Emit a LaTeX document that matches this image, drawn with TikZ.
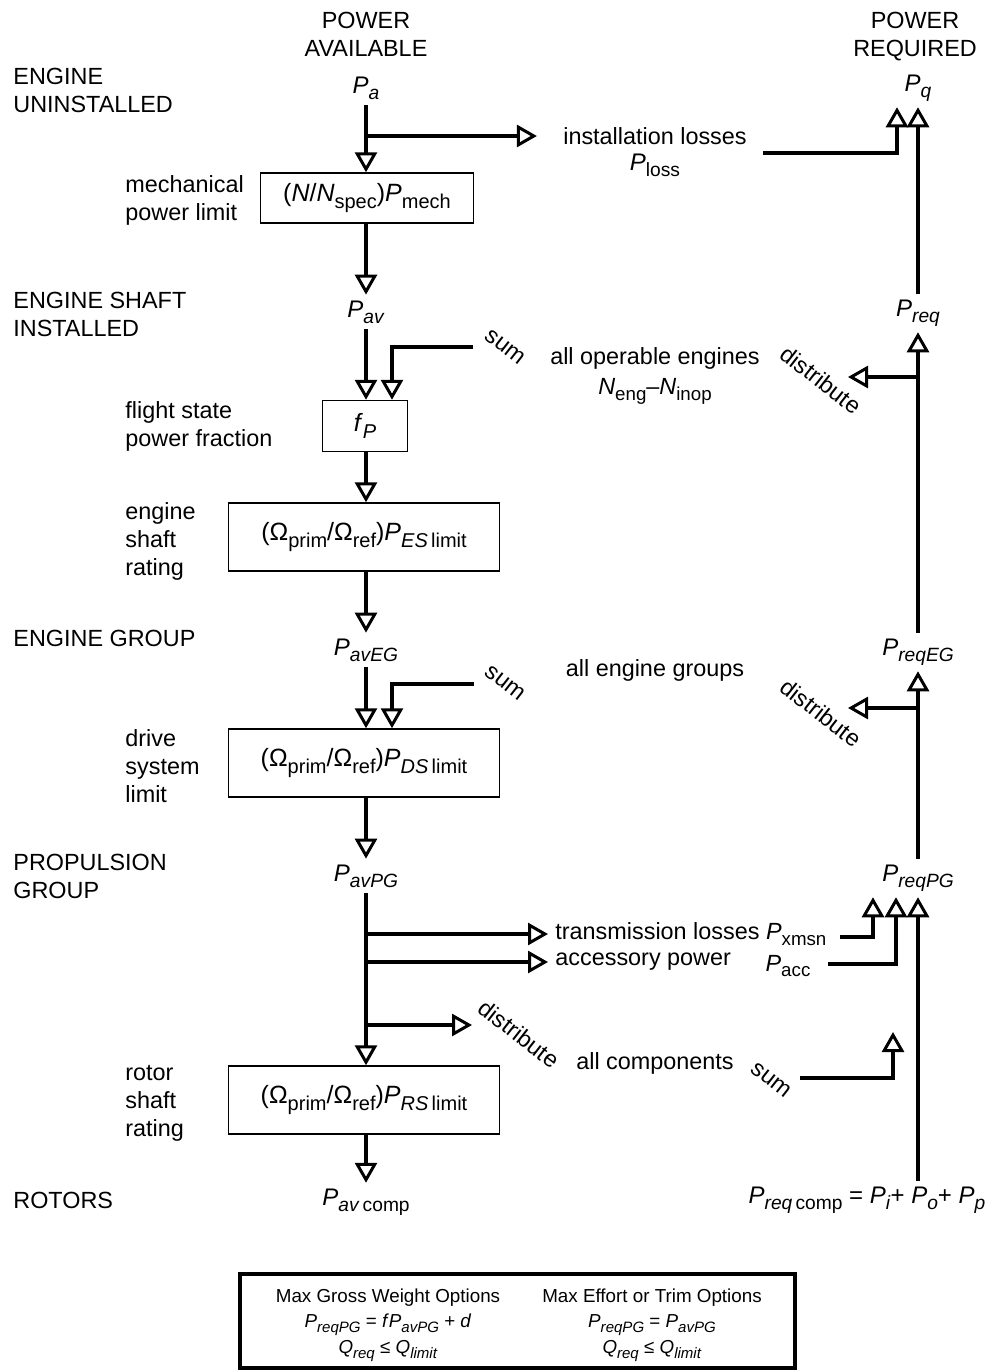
\documentclass[tikz,border=0pt]{standalone}
\usepackage{fontspec}
\setmainfont{Liberation Sans}
\usepackage{tikz}
\usetikzlibrary{arrows.meta}
\usetikzlibrary{positioning}
\usetikzlibrary{calc}
\newcommand{\sbs}[1]{\raisebox{-0.25em}{\scalebox{0.8}{#1}}}
\newcommand{\Pv}[1]{\textit{P}\sbs{#1}}

\begin{document}
\begin{tikzpicture} [x=0.5pt, y=-0.5pt,
    every node/.style = {inner sep=0pt, font=\fontsize{11.7}{14}\selectfont},
    hdr/.style = {align=center},
    lvl/.style = {anchor=west, align=left},
    blk/.style = {draw, line width=0.75pt, minimum height=34pt, minimum width=135.5pt, font=\fontsize{12.5}{14}\selectfont},
    var/.style = {outer sep=3pt, font=\fontsize{12}{14}\selectfont},
    rot/.style = {rotate=-38},
    flow/.style = {line width=2pt, -{Triangle[open, length=10pt, width=11pt, line width=1.5pt]}},
    leg/.style = {align=center, font=\fontsize{9.4}{12.7}\selectfont}
  ]
  \useasboundingbox (0,0) rectangle (992,1372);

  % headers and levels
  \node (hav) at (366,34) [hdr] {POWER\\AVAILABLE};
  \node (hreq) at (915,37) [hdr] {POWER\\REQUIRED};
  \node (lvuninst) at (13,90) [lvl] {ENGINE\\UNINSTALLED};
  \node (lvshaft) at (13,314) [lvl] {ENGINE SHAFT\\INSTALLED};
  \node (lvgroup) at (13,638) [lvl] {ENGINE GROUP};
  \node (lvprop) at (13,876) [lvl] {PROPULSION\\GROUP};
  \node (lvrotor) at (13,1200) [lvl] {ROTORS};

  % block labels
  \node (tmech) at (125,200) [lvl] {mechanical\\power limit};
  \node (tfp) at (125,426) [lvl] {flight state\\power fraction};
  \node (tes) at (125,541) [lvl] {engine\\shaft\\rating};
  \node (tds) at (125,766) [lvl] {drive\\system\\limit};
  \node (trs) at (125,1103) [lvl] {rotor\\shaft\\rating};

  % power available column
  \node (pa) at (366,88) [var] {\Pv{\textit{a}}};
  \node (mech) at (367,198) [blk, minimum width=106.5pt, minimum height=25pt] {(\textit{N}/\textit{N}\sbs{spec})\Pv{mech}};
  \node (pav) at (366,312) [var] {\Pv{\textit{av}}};
  \node (fp) at (365,426) [blk, minimum width=42.5pt, minimum height=25.5pt] {\textit{f}\sbs{\textit{P}}};
  \node (es) at (364,537) [blk] {(Ω\sbs{prim}/Ω\sbs{ref})\Pv{\textit{ES}\,limit}};
  \node (paveg) at (366,650) [var] {\Pv{\textit{avEG}}};
  \node (ds) at (364,763) [blk] {(Ω\sbs{prim}/Ω\sbs{ref})\Pv{\textit{DS}\,limit}};
  \node (pavpg) at (366,876) [var] {\Pv{\textit{avPG}}};
  \node (rs) at (364,1100) [blk] {(Ω\sbs{prim}/Ω\sbs{ref})\Pv{\textit{RS}\,limit}};
  \node (pavcomp) at (366,1202) [var] {\Pv{\textit{av}\,comp}};

  % middle texts
  \node (loss) at (655,136) {installation losses};
  \node (ploss) at (655,165) [var] {\Pv{loss}};
  \node (engs) at (655,376) [align=center] {all operable engines\\[1pt]\textit{N}\sbs{eng}–\textit{N}\sbs{inop}};
  \node (groups) at (655,670) {all engine groups};
  \node (xmsn) at (555,934) [anchor=west] {transmission losses \Pv{xmsn}};
  \node (acc) at (555,962) [anchor=west] {accessory power};
  \node (pacc) at (788,966) {\Pv{acc}};
  \node (comps) at (655,1063) {all components};

  % sum and distribute
  \node (sum1) at (505,347) [rot] {sum};
  \node (sum2) at (505,683) [rot] {sum};
  \node (sum3) at (771,1080) [rot] {sum};
  \node (dist1) at (821,380) [rot] {distribute};
  \node (dist2) at (821,713) [rot] {distribute};
  \node (dist3) at (519,1034) [rot] {distribute};

  % power required column
  \node (pq) at (918,88) [var] {\Pv{\textit{q}}};
  \node (preq) at (918,313) [var] {\Pv{\textit{req}}};
  \node (preqeg) at (918,652) [var] {\Pv{\textit{reqEG}}};
  \node (preqpg) at (918,878) [var] {\Pv{\textit{reqPG}}};
  \node (preqcomp) at (867,1200) [var] {\Pv{\textit{req}\,comp} = \Pv{\textit{i}}+ \Pv{\textit{o}}+ \Pv{\textit{p}}};

  \coordinate (lout) at (763,153);
  \coordinate (s1) at (473,347);
  \coordinate (s2) at (474,684);
  \coordinate (d1) at (848,377);
  \coordinate (d2) at (848,708);
  \coordinate (d3) at (472,1025);
  \coordinate (xout) at (840,937);
  \coordinate (aout) at (828,964);
  \coordinate (cout) at (800,1078);
  \coordinate (ctip) at (893,1032);

  % available flow
  \draw [flow] (pa) -- (pa |- mech.north);
  \draw [flow] (pa |- loss) -- ([xshift=-13pt]loss.west);
  \draw [flow] (pav |- mech.south) -- (pav);
  \draw [flow] (pav) -- (pav |- fp.north);
  \draw [flow] (s1) -| ($(pav |- fp.north)+(26,0)$);
  \draw [flow] (pav |- fp.south) -- (pav |- es.north);
  \draw [flow] (paveg |- es.south) -- (paveg);
  \draw [flow] (paveg) -- (paveg |- ds.north);
  \draw [flow] (s2) -| ($(paveg |- ds.north)+(26,0)$);
  \draw [flow] (pavpg |- ds.south) -- (pavpg);
  \draw [flow] (pavpg) -- (pavpg |- rs.north);
  \draw [flow] (pavpg |- xmsn) -- ([xshift=-3.5pt]xmsn.west);
  \draw [flow] (pavpg |- acc) -- ([xshift=-3.5pt]acc.west);
  \draw [flow] (pavpg |- d3) -- (d3);
  \draw [flow] (pavcomp |- rs.south) -- (pavcomp);

  % required flow
  \draw [flow] (preqpg |- preqcomp.north) -- (preqpg);
  \draw [flow] (xout) -| ($(preqpg.south)+(-45,0)$);
  \draw [flow] (aout) -| ($(preqpg.south)+(-22,0)$);
  \draw [flow] (cout) -| (ctip);
  \draw [flow] (preqpg) -- (preqeg);
  \draw [flow] (preqpg |- d2) -- (d2);
  \draw [flow] (preqeg) -- (preq);
  \draw [flow] (preq |- d1) -- (d1);
  \draw [flow] (preq) -- (pq);
  \draw [flow] (lout) -| ($(pq.south)+(-21,0)$);

  % options box
  \node (legend) at (517.5,1321) [draw, line width=2pt, minimum width=277.5pt, minimum height=47pt] {};
  \node (gwopt) at (388,1325) [leg] {Max Gross Weight Options\\\Pv{\textit{reqPG}} = \textit{f}\Pv{\textit{avPG}} + \textit{d}\\\textit{Q}\sbs{\textit{req}} ≤ \textit{Q}\sbs{\textit{limit}}};
  \node (meopt) at (652,1325) [leg] {Max Effort or Trim Options\\\Pv{\textit{reqPG}} = \Pv{\textit{avPG}}\\\textit{Q}\sbs{\textit{req}} ≤ \textit{Q}\sbs{\textit{limit}}};
\end{tikzpicture}
\end{document}
